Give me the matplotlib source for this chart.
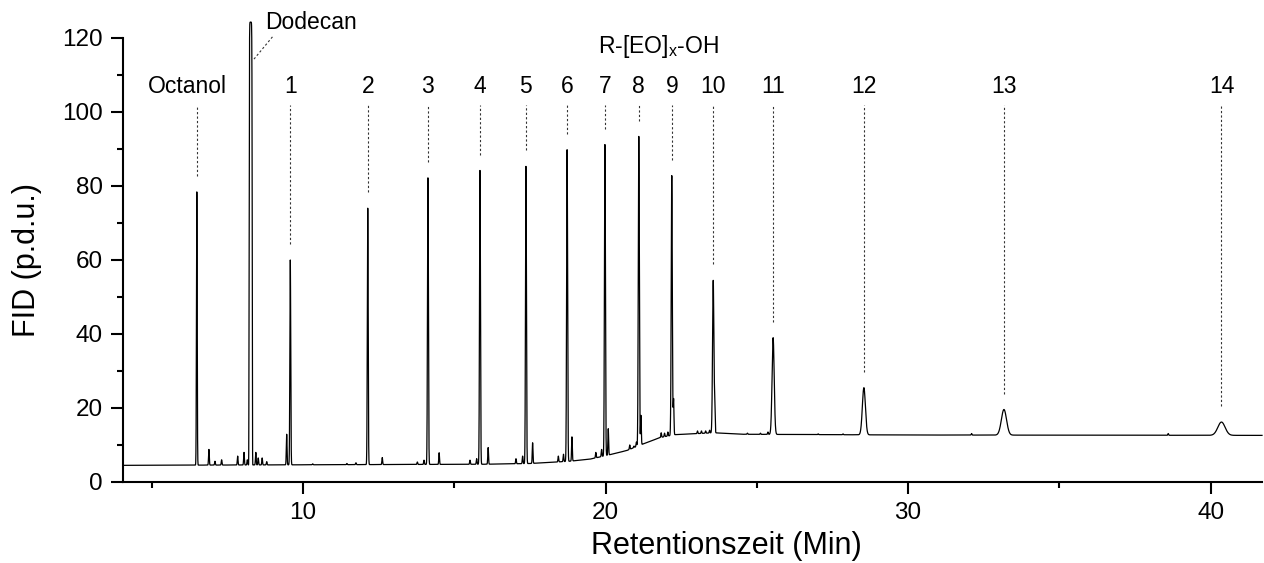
import numpy as np
import matplotlib
matplotlib.use("Agg")
import matplotlib.pyplot as plt
from matplotlib.ticker import MultipleLocator

plt.rcParams['font.family'] = ['Liberation Sans', 'DejaVu Sans']

# ---- data ----
# labelled peaks (retention time in min, apex FID value, width in min, shape order)
peak_names = ['Octanol', 'Dodecan', '1', '2', '3', '4', '5', '6', '7', '8', '9',
              '10', '11', '12', '13', '14']
peak_times = [6.49, 8.27, 9.58, 12.14, 14.13, 15.85, 17.37, 18.73, 19.98, 21.10,
              22.19, 23.56, 25.54, 28.54, 33.17, 40.36]
peak_apex = [78.4, 124.3, 60.0, 74.0, 82.2, 84.2, 85.3, 89.8, 91.2, 93.4,
             82.8, 54.5, 39.0, 25.5, 19.6, 16.2]
peak_sigma = [0.012, 0.05, 0.014, 0.014, 0.015, 0.015, 0.015, 0.016, 0.016, 0.017,
              0.018, 0.022, 0.035, 0.05, 0.085, 0.12]
peak_order = [2, 8, 2, 2, 2, 2, 2, 2, 2, 2, 2, 2, 2, 2, 2, 2]

# small unlabelled peaks
minor_times = [6.89, 7.09, 7.31, 7.84, 8.05, 8.16, 8.44, 8.52, 8.65, 8.80, 9.46,
               10.32, 11.45, 11.75, 12.62, 13.78, 14.00, 14.50, 15.52, 15.74, 16.12,
               17.04, 17.26, 17.59, 18.44, 18.61, 18.89, 19.68, 19.87, 20.09,
               20.80, 20.94, 21.02, 21.17, 21.84, 21.95, 22.06, 22.25, 23.04, 23.17,
               23.31, 23.44, 23.61, 24.69, 25.12, 25.37, 27.03, 27.85, 32.1, 38.6]
minor_apex = [8.8, 5.6, 6.0, 7.0, 8.0, 6.0, 8.0, 6.5, 6.5, 5.5, 12.9,
              4.9, 5.0, 5.2, 6.6, 5.4, 5.9, 7.9, 5.9, 6.3, 9.3,
              6.3, 7.0, 10.6, 7.0, 7.5, 12.2, 8.0, 8.8, 14.4,
              10.0, 9.7, 10.8, 18.0, 13.3, 13.2, 13.5, 22.3, 13.8, 13.8,
              13.8, 14.0, 20.5, 13.2, 13.2, 13.5, 13.0, 13.0, 13.1, 13.1]

# baseline (drift) knots
base_t = [4.05, 8.0, 12.0, 16.0, 17.5, 18.8, 19.5, 20.05, 20.7, 21.15, 21.8,
          22.3, 23.6, 24.5, 30.0, 41.7]
base_y = [4.5, 4.6, 4.7, 4.8, 5.0, 5.6, 6.2, 7.2, 8.5, 10.0, 12.0,
          12.8, 13.3, 12.9, 12.7, 12.6]

# ---- build the trace ----
t = np.arange(4.05, 41.7, 0.002)
base = np.interp(t, base_t, base_y)
signal = base.copy()
for tc, ap, sg, p in zip(peak_times, peak_apex, peak_sigma, peak_order):
    amp = ap - np.interp(tc, base_t, base_y)
    signal += amp * np.exp(-0.5 * np.abs((t - tc) / sg) ** p)
for tc, ap in zip(minor_times, minor_apex):
    amp = ap - np.interp(tc, base_t, base_y)
    signal += amp * np.exp(-0.5 * ((t - tc) / 0.012) ** 2)

# ---- figure ----
fig = plt.figure(figsize=(12.64, 5.63), dpi=100)
ax = fig.add_axes([123 / 1264, 1 - 482 / 563, 1139 / 1264, 444 / 563])

ax.plot(t, signal, color='black', lw=0.9, clip_on=False)

ax.set_xlim(4.05, 41.7)
ax.set_ylim(0, 120)

for s in ['top', 'right']:
    ax.spines[s].set_visible(False)
for s in ['left', 'bottom']:
    ax.spines[s].set_linewidth(1.5)

ax.xaxis.set_major_locator(MultipleLocator(10))
ax.xaxis.set_minor_locator(MultipleLocator(5))
ax.yaxis.set_major_locator(MultipleLocator(20))
ax.yaxis.set_minor_locator(MultipleLocator(10))
ax.tick_params(which='major', direction='out', length=8.5, width=1.5, labelsize=17.5)
ax.tick_params(which='minor', direction='out', length=4.5, width=1.5)
ax.tick_params(axis='x', which='major', pad=6)
ax.tick_params(axis='y', which='major', pad=6)

ax.set_xlabel('Retentionszeit (Min)', fontsize=22, va='center')
ax.xaxis.set_label_coords(0.530, -0.145)
ax.set_ylabel('FID (p.d.u.)', fontsize=22, va='center')
ax.yaxis.set_label_coords(-0.084, 0.5)

# ---- annotations ----
line_top = 102.0
gap = 4.3
label_y = 107.0
for name, tc, ap in zip(peak_names, peak_times, peak_apex):
    if name == 'Dodecan':
        continue
    ax.plot([tc, tc], [ap + gap, line_top], color='#333333', lw=0.8,
            linestyle=(0, (2, 2)))
    dx = -0.3 if name == 'Octanol' else 0.0
    ax.text(tc + dx, label_y, name, ha='center', va='center', fontsize=16.5)

# Dodecan label with diagonal leader
ax.plot([8.38, 9.02], [114.3, 120.6], color='#333333', lw=0.8,
        linestyle=(0, (2, 2)), clip_on=False)
ax.text(8.74, 124.2, 'Dodecan', ha='left', va='center', fontsize=16.5, clip_on=False)

ax.text(21.76, 117.7, r'R-[EO]$_\mathregular{x}$-OH', ha='center', va='center',
        fontsize=16.5)

fig.savefig('out.png', dpi=100)
